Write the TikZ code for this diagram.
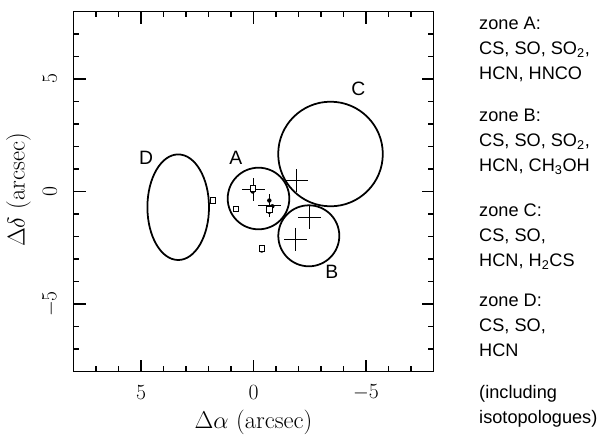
\documentclass[tikz,border=0pt]{standalone}
\usepackage{fontspec}
\newfontfamily\labfont{Liberation Sans}
\begin{document}
\begin{tikzpicture}[x=0.03cm,y=-0.03cm,
  frame/.style={line width=1.3pt},
  tickline/.style={line width=1pt},
  curve/.style={line width=1.5pt},
  crossmark/.style={line width=1.3pt},
  zonelab/.style={font=\labfont\fontsize{16.5}{20}\selectfont, inner sep=0pt},
  txt/.style={font=\labfont\fontsize{15.5}{19}\selectfont, anchor=base west, inner sep=0pt},
  ticklab/.style={font=\fontsize{18.5}{22}\selectfont, inner sep=0pt},
  axlab/.style={font=\fontsize{21}{25}\selectfont, inner sep=0pt},
  sqmark/.style={draw, fill=white, line width=0.8pt, inner sep=0pt, minimum size=4.6pt},
  dotmark/.style={fill=black, circle, inner sep=0pt, minimum size=3.8pt}
]
\useasboundingbox (0,0) rectangle (600,443);
% frame
\draw[frame] (73.5,11.5) rectangle (433.5,371.5);
% ticks
\foreach \i in {-7,...,7}{
  \pgfmathsetmacro\L{(abs(\i)==5 || \i==0) ? 12 : 5.5}
  \draw[tickline] (253.5-22.5*\i,371.5) -- ++(0,-\L);
  \draw[tickline] (253.5-22.5*\i,11.5) -- ++(0,\L);
  \draw[tickline] (73.5,191.5-22.5*\i) -- ++(\L,0);
  \draw[tickline] (433.5,191.5-22.5*\i) -- ++(-\L,0);
}
% tick labels
\node[ticklab] (xl5) at (141,392.5) {5};
\node[ticklab] (xl0) at (253.5,392.5) {0};
\node[ticklab] (xlm5) at (366,392.5) {$-$5};
\node[ticklab, rotate=90] (yl5) at (50,79) {5};
\node[ticklab, rotate=90] (yl0) at (50,191.5) {0};
\node[ticklab, rotate=90] (ylm5) at (50,304) {$-$5};
\node[axlab, anchor=base] (xlabel) at (253.5,428) {$\Delta\alpha$ (arcsec)};
\node[axlab, rotate=90] (ylabel) at (18.5,190) {$\Delta\delta$ (arcsec)};
% zones
\draw[curve] (330.5,154) circle[radius=52.3];
\draw[curve] (258.5,198.5) circle[radius=30.8];
\draw[curve] (308.8,235.8) circle[radius=30.5];
\draw[curve] (178.2,207.2) ellipse[x radius=30.8, y radius=52.8];
% crosses
\foreach \cx/\cy in {296.7/180.7, 309.3/217.3, 295.3/239.3, 253.3/189.5, 269.3/205.7}{
  \draw[crossmark] (\cx-11.3,\cy) -- (\cx+11.3,\cy);
  \draw[crossmark] (\cx,\cy-11.5) -- (\cx,\cy+11.5);
}
% small markers
\node[sqmark] (s1) at (212.7,200.3) {};
\node[sqmark] (s2) at (235.7,209) {};
\node[dotmark] (d1) at (252.7,191.5) {};
\node[sqmark] (s3) at (252.7,188.3) {};
\node[dotmark] (d2) at (261.7,250.5) {};
\node[sqmark] (s4) at (261.7,248.3) {};
\node[dotmark] (d3) at (269.3,200.5) {};
\node[dotmark] (d4) at (272.3,206.3) {};
\node[dotmark] (d5) at (269.3,211.8) {};
\node[sqmark] (s5) at (269.3,209.3) {};
% zone letters
\node[zonelab] (lC) at (358.3,89.3) {C};
\node[zonelab] (lA) at (235.7,158.3) {A};
\node[zonelab] (lD) at (146,158.3) {D};
\node[zonelab] (lB) at (331.7,271.7) {B};
% legend text
\node[txt] (t1) at (479,29) {zone A:};
\node[txt] (t2) at (479,54) {CS, SO, SO\textsubscript{2},};
\node[txt] (t3) at (479,79) {HCN, HNCO};
\node[txt] (t4) at (479,121.7) {zone B:};
\node[txt] (t5) at (479,146.5) {CS, SO, SO\textsubscript{2},};
\node[txt] (t6) at (479,171) {HCN, CH\textsubscript{3}OH};
\node[txt] (t7) at (479,216.7) {zone C:};
\node[txt] (t8) at (479,241.5) {CS, SO,};
\node[txt] (t9) at (479,266) {HCN, H\textsubscript{2}CS};
\node[txt] (t10) at (479,306) {zone D:};
\node[txt] (t11) at (479,331) {CS, SO,};
\node[txt] (t12) at (479,356) {HCN};
\node[txt] (t13) at (479,398) {(including};
\node[txt] (t14) at (479,423) {isotopologues)};
\end{tikzpicture}
\end{document}
